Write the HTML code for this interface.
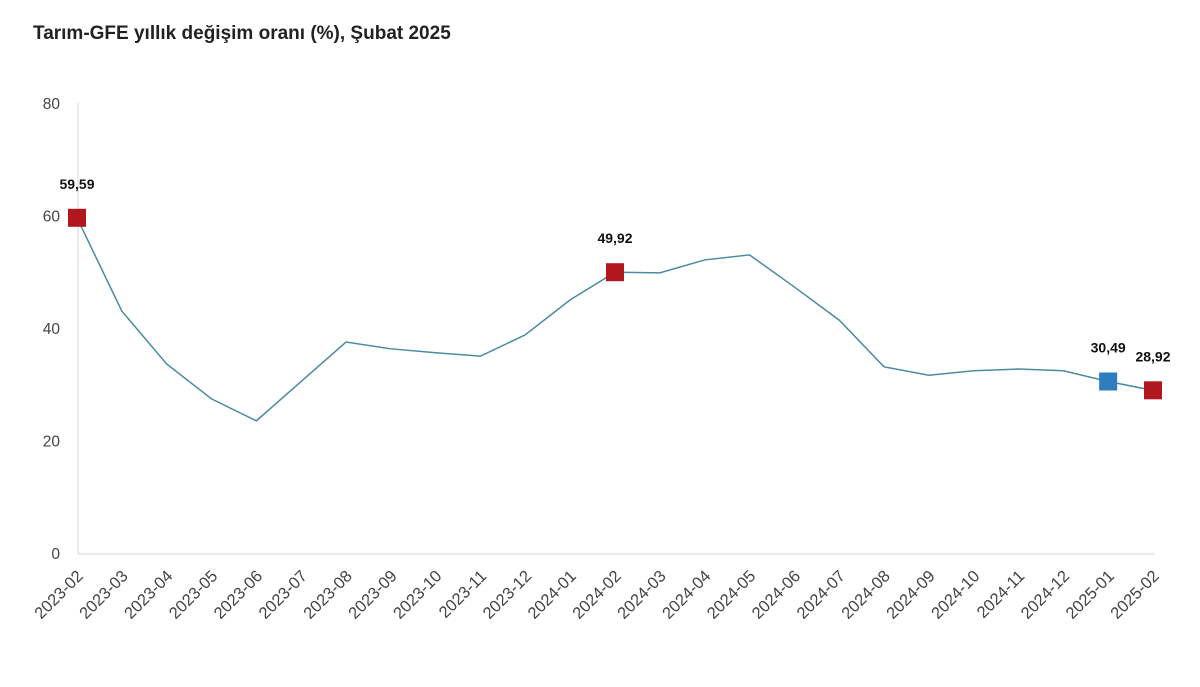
<!DOCTYPE html>
<html><head><meta charset="utf-8"><style>
body{margin:0;background:#fff;width:1200px;height:682px;overflow:hidden;font-family:"Liberation Sans",sans-serif}
</style></head><body>
<svg id="chart" width="1200" height="682" xmlns="http://www.w3.org/2000/svg">
<text x="33" y="39" font-size="19" font-weight="bold" fill="#222">Tarım-GFE yıllık değişim oranı (%), Şubat 2025</text>
<line x1="78" y1="103" x2="78" y2="554" stroke="#e3e3e3" stroke-width="1.5"/>
<line x1="78" y1="554" x2="1155" y2="554" stroke="#e3e3e3" stroke-width="1.5"/>
<g id="g"></g>
</svg>
<script>
const categories=["2023-02","2023-03","2023-04","2023-05","2023-06","2023-07","2023-08","2023-09","2023-10","2023-11","2023-12","2024-01","2024-02","2024-03","2024-04","2024-05","2024-06","2024-07","2024-08","2024-09","2024-10","2024-11","2024-12","2025-01","2025-02"];
const values=[59.59,43.0,33.6,27.4,23.5,30.5,37.5,36.3,35.6,35.0,38.8,45.0,49.92,49.8,52.1,53.0,47.3,41.4,33.1,31.6,32.4,32.7,32.4,30.49,28.92];
const yTicks=[0,20,40,60,80];
const highlights=[{i:0,label:"59,59",color:"#b0171e"},{i:12,label:"49,92",color:"#b0171e"},{i:23,label:"30,49",color:"#2e7dc0"},{i:24,label:"28,92",color:"#b0171e"}];
const NS="http://www.w3.org/2000/svg";
const g=document.getElementById('g');
const x=i=>77+i*(1153-77)/(categories.length-1);
const y=v=>553-v*450/80;
function mk(t,a){const e=document.createElementNS(NS,t);for(const k in a)e.setAttribute(k,a[k]);g.appendChild(e);return e;}
yTicks.forEach(t=>{const e=mk('text',{x:60,y:y(t)+6,'text-anchor':'end','font-size':15.5,fill:'#444'});e.textContent=t;

});
categories.forEach((c,i)=>{const ax=x(i)+7,ay=577;const e=mk('text',{x:ax,y:ay,'text-anchor':'end','font-size':16.5,fill:'#444',transform:`rotate(-45 ${ax} ${ay})`});e.textContent=c;

});
const p=mk('polyline',{points:values.map((v,i)=>x(i)+','+y(v)).join(' '),fill:'none',stroke:'#4a8ba0','stroke-width':1.5});


highlights.forEach(h=>{const cx=x(h.i),cy=y(values[h.i]);
const r=mk('rect',{x:cx-9,y:cy-9,width:18,height:18,fill:h.color});


const t=mk('text',{x:cx,y:cy-29,'text-anchor':'middle','font-size':14,'font-weight':'bold',fill:'#111'});t.textContent=h.label;

});
</script>
</body></html>
